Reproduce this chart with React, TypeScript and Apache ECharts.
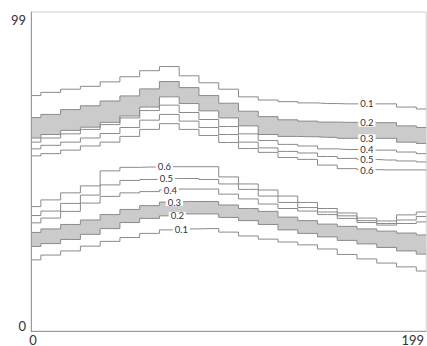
import React, { useEffect, useRef } from 'react';
import * as echarts from 'echarts';

// sample positions along the horizontal axis
const xValues = [0, 10, 20, 30, 40, 50, 60, 70, 80, 90, 100, 110, 120, 130, 140, 150, 160, 170, 180, 190, 200];
const xTickLabels = [0, 199];
const yTickLabels = [0, 99];
const levels = ['0.1', '0.2', '0.3', '0.4', '0.5', '0.6'];

// upper group of contour lines (value rises downward)
const upper01 = [73.8, 74.8, 75.8, 76.7, 78.1, 79.7, 81.6, 82.9, 80.0, 77.8, 75.8, 73.4, 72.4, 71.9, 71.5, 71.3, 71.2, 71.2, 71.2, 70.2, 69.6];
const upper02 = [66.9, 67.9, 69.4, 70.6, 72.1, 73.7, 75.9, 78.2, 76.3, 73.8, 71.4, 68.9, 67.2, 66.2, 65.8, 65.5, 65.4, 65.3, 65.3, 64.3, 63.8];
const upper03 = [60.5, 61.6, 62.9, 63.9, 65.4, 67.4, 70.2, 73.4, 71.3, 69.0, 66.8, 64.3, 61.6, 61.0, 60.9, 60.7, 60.4, 60.4, 60.4, 59.2, 58.8];
const upper04 = [59.2, 60.5, 61.8, 63.2, 64.7, 66.8, 69.1, 70.8, 68.5, 66.3, 64.1, 61.8, 59.7, 58.5, 58.0, 57.1, 56.9, 56.7, 56.7, 56.1, 55.6];
const upper05 = [57.1, 58.2, 59.2, 60.5, 61.9, 63.8, 66.1, 67.9, 65.8, 63.8, 61.6, 59.2, 57.4, 56.3, 55.8, 54.7, 54.1, 53.8, 53.6, 53.3, 53.0];
const upper06 = [54.9, 55.6, 56.7, 58.0, 59.2, 61.0, 63.2, 65.0, 63.2, 61.3, 59.1, 57.2, 56.0, 54.4, 53.8, 52.0, 50.9, 50.6, 50.5, 50.5, 50.5];

// lower group of contour lines (value rises upward)
const lower01 = [22.3, 23.8, 25.1, 26.6, 28.1, 29.3, 30.6, 31.7, 32.0, 32.1, 31.0, 29.8, 28.8, 27.9, 27.0, 25.7, 24.0, 22.6, 21.3, 20.1, 18.8];
const lower02 = [26.5, 27.4, 28.7, 30.3, 32.1, 34.0, 35.3, 36.1, 36.7, 36.7, 35.6, 34.6, 33.4, 31.7, 30.6, 29.5, 28.4, 27.3, 26.2, 25.1, 24.1];
const lower03 = [30.9, 32.0, 33.4, 34.8, 36.5, 38.1, 39.3, 40.4, 40.6, 40.6, 39.5, 38.4, 37.5, 35.7, 34.6, 33.5, 32.8, 32.0, 31.3, 30.7, 30.1];
const lower04 = [33.9, 35.4, 37.5, 40.1, 42.2, 43.3, 43.7, 44.2, 44.5, 44.5, 42.9, 41.4, 39.8, 38.4, 37.6, 36.5, 35.3, 34.0, 33.2, 33.7, 34.2];
const lower05 = [36.2, 37.6, 40.0, 42.6, 45.8, 47.2, 47.5, 47.8, 47.8, 47.5, 46.1, 44.4, 42.3, 40.3, 38.7, 37.3, 36.1, 34.6, 33.7, 34.8, 35.9];
const lower06 = [39.0, 41.1, 43.3, 45.5, 50.2, 51.3, 51.4, 51.5, 51.5, 51.5, 48.3, 46.1, 44.2, 42.3, 40.3, 38.4, 37.0, 35.4, 34.5, 36.4, 37.3];

const upperLines = [upper01, upper02, upper03, upper04, upper05, upper06];
const lowerLines = [lower01, lower02, lower03, lower04, lower05, lower06];
const upperLabelIndex = 17;
const lowerLabelIndex = 7;

const LINE_COLOR = '#8a8a8a';
const BAND_COLOR = '#cbcbcb';

// stepped ("middle") outline of a line, in data coordinates
function stepPoints(ys: number[]) {
  const out: number[][] = [];
  const n = ys.length;
  for (let i = 0; i < n; i++) {
    const x0 = i === 0 ? xValues[0] : (xValues[i - 1] + xValues[i]) / 2;
    const x1 = i === n - 1 ? xValues[n - 1] : (xValues[i] + xValues[i + 1]) / 2;
    out.push([x0, ys[i]], [x1, ys[i]]);
  }
  return out;
}

function contourSeries(ys: number[], level: string, labelIdx: number, offset: number[]) {
  return {
    type: 'line',
    step: 'middle',
    symbol: 'circle',
    symbolSize: 0,
    showSymbol: true,
    silent: true,
    z: 4,
    lineStyle: { color: LINE_COLOR, width: 1 },
    itemStyle: { color: LINE_COLOR },
    data: ys.map((y, i) =>
      i === labelIdx
        ? {
            value: [xValues[i], y],
            label: {
              show: true,
              position: 'inside',
              formatter: level,
              offset,
              color: '#333',
              fontFamily: 'Lato',
              fontSize: 9.5,
              lineHeight: 8,
              backgroundColor: '#ffffff',
              padding: [0, 2, 0, 2],
            },
          }
        : [xValues[i], y]
    ),
  };
}

function bandSeries(lower: number[], upper: number[]) {
  return {
    type: 'custom',
    silent: true,
    z: 2,
    clip: true,
    data: [[0]],
    renderItem: (_params: any, api: any) => {
      const top = stepPoints(upper);
      const bottom = stepPoints(lower).reverse();
      const points = [...top, ...bottom].map((p) => api.coord(p));
      return {
        type: 'polygon',
        shape: { points },
        style: { fill: BAND_COLOR, stroke: 'none' },
      };
    },
  };
}

const upperOffsets = [[0, 0], [0, 0], [0, 0], [0, -1], [0, 0], [0, 1]];
const lowerOffsets = [[12, 0], [8, 0], [5, 0], [1, 0], [-3, 0], [-5, 0]];

export default function App() {
  const ref = useRef<HTMLDivElement>(null);
  useEffect(() => {
    if (!ref.current) return;
    const chart = echarts.init(ref.current, null, { renderer: 'svg' });
    const series: any[] = [
      bandSeries(upper03, upper02),
      bandSeries(lower02, lower03),
      ...upperLines.map((ys, k) => contourSeries(ys, levels[k], upperLabelIndex, upperOffsets[k])),
      ...lowerLines.map((ys, k) => contourSeries(ys, levels[k], lowerLabelIndex, lowerOffsets[k])),
    ];
    chart.setOption({
      animation: false,
      backgroundColor: '#ffffff',
      grid: {
        left: 31,
        right: -4,
        top: 12,
        bottom: 15,
        show: true,
        borderColor: '#d4d4d4',
        borderWidth: 1,
        backgroundColor: 'transparent',
      },
      xAxis: {
        type: 'value',
        min: 0,
        max: 200,
        z: 5,
        axisLine: { show: true, lineStyle: { color: '#9a9a9a', width: 1 } },
        axisTick: { show: false },
        splitLine: { show: false },
        axisLabel: {
          customValues: xTickLabels,
          margin: 2,
          color: '#333',
          fontFamily: 'Lato',
          fontSize: 13,
          formatter: (v: number) => (v === xTickLabels[0] ? `{lo|${v}}` : `{hi|${v}}`),
          rich: {
            lo: { fontFamily: 'Lato', fontSize: 13, color: '#333', padding: [0, 0, 0, 4] },
            hi: { fontFamily: 'Lato', fontSize: 13, color: '#333', padding: [0, 23, 0, 0] },
          },
        },
      },
      yAxis: {
        type: 'value',
        min: 0,
        max: 100,
        z: 5,
        axisLine: { show: true, lineStyle: { color: '#9a9a9a', width: 1 } },
        axisTick: { show: false },
        splitLine: { show: false },
        axisLabel: {
          customValues: yTickLabels,
          margin: 5,
          color: '#333',
          fontFamily: 'Lato',
          fontSize: 13,
          formatter: (v: number) => (v === yTickLabels[0] ? `{lo|${v}}` : `{hi|${v}}`),
          rich: {
            lo: { fontFamily: 'Lato', fontSize: 13, color: '#333', padding: [0, 0, 10, 0] },
            hi: { fontFamily: 'Lato', fontSize: 13, color: '#333', padding: [10, 0, 0, 0] },
          },
        },
      },
      series,
    });
    return () => chart.dispose();
  }, []);
  return (
    <div
      ref={ref}
      style={{ position: 'fixed', left: 0, top: 0, width: 427, height: 346, background: '#fff' }}
    />
  );
}
